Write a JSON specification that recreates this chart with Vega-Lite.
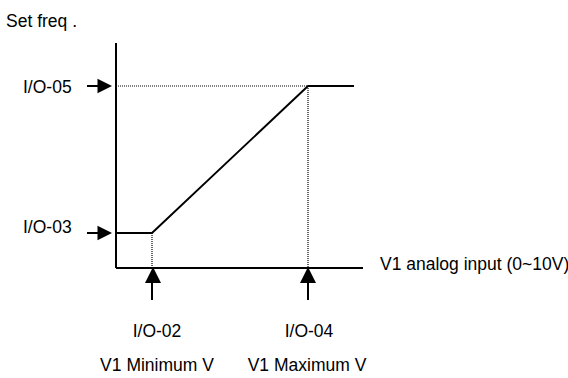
{
  "$schema": "https://vega.github.io/schema/vega-lite/v6.json",
  "width": 568,
  "height": 378,
  "padding": 0,
  "autosize": {"type": "none"},
  "background": "white",
  "config": {"view": {"stroke": null}},
  "datasets": {
    "axes": [
      {"x": 0, "y": 0, "x2": 0, "y2": 225},
      {"x": 0, "y": 0, "x2": 247, "y2": 0}
    ],
    "curve": [
      {"i": 0, "v": 0, "f": 35},
      {"i": 1, "v": 36, "f": 35},
      {"i": 2, "v": 192, "f": 182},
      {"i": 3, "v": 238, "f": 182}
    ],
    "guides": [
      {"x": 2, "y": 182, "x2": 192, "y2": 182},
      {"x": 192, "y": 182, "x2": 192, "y2": 0},
      {"x": 36, "y": 35, "x2": 36, "y2": 0}
    ],
    "stems": [
      {"x": -29, "y": 182, "x2": -18, "y2": 182},
      {"x": -29, "y": 35, "x2": -18, "y2": 35},
      {"x": 36, "y": -14, "x2": 36, "y2": -32},
      {"x": 192, "y": -14, "x2": 192, "y2": -32}
    ],
    "rightHeads": [
      {"x": -4, "y": 182},
      {"x": -4, "y": 35}
    ],
    "upHeads": [
      {"x": 37, "y": 1},
      {"x": 192, "y": 1}
    ],
    "labelsLeft": [
      {"label": "Set freq .", "x": -110, "y": 241},
      {"label": "I/O-05", "x": -93, "y": 175},
      {"label": "I/O-03", "x": -93, "y": 35},
      {"label": "V1 analog input (0~10V)", "x": 264, "y": -2}
    ],
    "labelsCenter": [
      {"label": "I/O-02", "x": 41, "y": -69},
      {"label": "I/O-04", "x": 193, "y": -69},
      {"label": "V1 Minimum V", "x": 41, "y": -103},
      {"label": "V1 Maximum V", "x": 191, "y": -103}
    ]
  },
  "layer": [
    {
      "data": {"name": "axes"},
      "mark": {"type": "rule", "color": "black", "strokeWidth": 2},
      "encoding": {
        "x": {"field": "x", "type": "quantitative", "scale": {"domain": [-116, 452], "nice": false, "zero": false}, "axis": null},
        "y": {"field": "y", "type": "quantitative", "scale": {"domain": [-110, 268], "nice": false, "zero": false}, "axis": null},
        "x2": {"field": "x2"},
        "y2": {"field": "y2"}
      }
    },
    {
      "data": {"name": "guides"},
      "mark": {"type": "rule", "color": "black", "strokeWidth": 1.2, "strokeDash": [1, 1]},
      "encoding": {
        "x": {"field": "x", "type": "quantitative"},
        "y": {"field": "y", "type": "quantitative"},
        "x2": {"field": "x2"},
        "y2": {"field": "y2"}
      }
    },
    {
      "data": {"name": "curve"},
      "mark": {"type": "line", "color": "black", "strokeWidth": 2},
      "encoding": {
        "x": {"field": "v", "type": "quantitative"},
        "y": {"field": "f", "type": "quantitative"},
        "order": {"field": "i"}
      }
    },
    {
      "data": {"name": "stems"},
      "mark": {"type": "rule", "color": "black", "strokeWidth": 2},
      "encoding": {
        "x": {"field": "x", "type": "quantitative"},
        "y": {"field": "y", "type": "quantitative"},
        "x2": {"field": "x2"},
        "y2": {"field": "y2"}
      }
    },
    {
      "data": {"name": "rightHeads"},
      "mark": {"type": "point", "shape": "M0,0L-2,-1L-2,1Z", "size": 210, "filled": true, "color": "black", "opacity": 1, "strokeWidth": 0},
      "encoding": {
        "x": {"field": "x", "type": "quantitative"},
        "y": {"field": "y", "type": "quantitative"}
      }
    },
    {
      "data": {"name": "upHeads"},
      "mark": {"type": "point", "shape": "M0,0L-1,2L1,2Z", "size": 256, "filled": true, "color": "black", "opacity": 1, "strokeWidth": 0},
      "encoding": {
        "x": {"field": "x", "type": "quantitative"},
        "y": {"field": "y", "type": "quantitative"}
      }
    },
    {
      "data": {"name": "labelsLeft"},
      "mark": {"type": "text", "align": "left", "baseline": "alphabetic", "font": "Liberation Sans", "fontSize": 17.5, "color": "black"},
      "encoding": {
        "x": {"field": "x", "type": "quantitative"},
        "y": {"field": "y", "type": "quantitative"},
        "text": {"field": "label"}
      }
    },
    {
      "data": {"name": "labelsCenter"},
      "mark": {"type": "text", "align": "center", "baseline": "alphabetic", "font": "Liberation Sans", "fontSize": 17.5, "color": "black"},
      "encoding": {
        "x": {"field": "x", "type": "quantitative"},
        "y": {"field": "y", "type": "quantitative"},
        "text": {"field": "label"}
      }
    }
  ]
}
